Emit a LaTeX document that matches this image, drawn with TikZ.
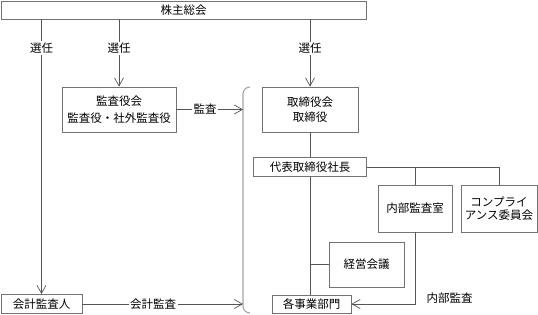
\documentclass[tikz,border=0pt]{standalone}
\usepackage{fontspec}
\usepackage{tikz}
\usetikzlibrary{arrows.meta,positioning,calc}
\newfontfamily\jpfont{Noto Sans CJK JP}
\definecolor{boxgray}{RGB}{115,115,115}
\definecolor{linegray}{RGB}{85,85,85}
\definecolor{bracketgray}{RGB}{165,165,165}
\tikzset{
  orgbox/.style={rectangle, draw=boxgray, line width=0.85pt, fill=white, align=center, inner sep=0pt, font=\jpfont\fontsize{11.5}{13.5}\selectfont},
  conn/.style={draw=linegray, line width=0.7pt},
  arr/.style={conn, -{Straight Barb[length=8pt,width=9pt]}},
  lbl/.style={fill=white, inner sep=1.5pt, font=\jpfont\fontsize{11.5}{13.5}\selectfont},
  bracket/.style={draw=bracketgray, line width=1.1pt, rounded corners=7pt}
}
\begin{document}
\begin{tikzpicture}[x=1pt,y=-1pt]
  \useasboundingbox (0,0) rectangle (538,315);

  % general meeting on top
  \node[orgbox, minimum width=365pt, minimum height=18pt] (meeting) at (183.5,10) {株主総会};

  % auditors
  \node[orgbox, minimum width=114pt, minimum height=45pt] (kansa) at (119,109.5) {監査役会\\[3pt]監査役・社外監査役};
  \node[orgbox, minimum width=81pt, minimum height=19pt] (kaikei) at (41.5,304) {会計監査人};

  % board and executives
  \node[orgbox, minimum width=96pt, minimum height=45pt] (board) at (310,109.5) {取締役会\\[2pt]取締役};
  \node[orgbox, minimum width=113pt, minimum height=19pt] (ceo) at (310,167) {代表取締役社長};
  \node[orgbox, minimum width=74pt, minimum height=47pt] (naibu) at (415,208.5) {内部監査室};
  \node[orgbox, minimum width=76pt, minimum height=47pt] (comp) at (499,208.5) {コンプライ\\アンス委員会};
  \node[orgbox, minimum width=75pt, minimum height=45pt] (keiei) at (366.5,264.5) {経営会議};
  \node[orgbox, minimum width=79pt, minimum height=18pt] (jigyo) at (311.5,304) {各事業部門};

  % bracket round the company side
  \coordinate (brL) at (243,200);
  \draw[bracket] (250,87) -- (243,87) -- (243,313) -- (250,313);

  % appointments
  \draw[arr] (meeting.south -| kaikei) -- node[lbl, pos=0.105] {選任} (kaikei.north);
  \draw[arr] (meeting.south -| kansa) -- node[lbl, pos=0.43] {選任} (kansa.north);
  \draw[arr] (meeting.south -| board) -- node[lbl, pos=0.43] {選任} (board.north);

  % audits
  \draw[arr] (kansa.east) -- node[lbl, pos=0.43] {監査} (kansa.east -| brL);
  \draw[arr] (kaikei.east) -- node[lbl, pos=0.44] {会計監査} (kaikei.east -| brL);

  % company tree
  \draw[conn] (board.south) -- (ceo.north);
  \draw[conn] (ceo.south) -- (ceo.south |- jigyo.north);
  \draw[conn] (keiei.west) -- (keiei.west -| ceo);
  \draw[conn] (ceo.east) -| (comp.north);
  \draw[conn] (naibu.north) -- (naibu.north |- ceo.east);
  \draw[arr] (naibu.south) |- node[pos=0.5, anchor=west, xshift=8pt, yshift=6pt, font=\jpfont\fontsize{11.5}{13.5}\selectfont] {内部監査} (jigyo.east);
\end{tikzpicture}
\end{document}
